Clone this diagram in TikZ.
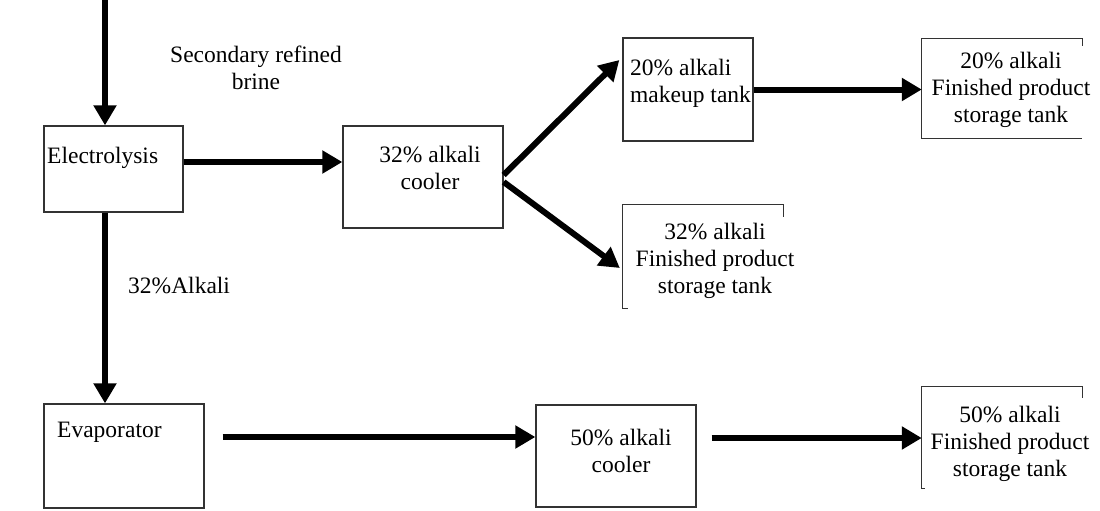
\documentclass[tikz,border=0pt]{standalone}
\usepackage{fontspec}
\setmainfont{Liberation Serif}
\usetikzlibrary{arrows.meta,calc}
\begin{document}
\begin{tikzpicture}[x=1pt,y=-1pt,
  box/.style={draw=black!80,line width=1.3pt,minimum width=#1,inner sep=0pt},
  ghost/.style={inner sep=0pt,minimum width=#1},
  flow/.style={line width=6pt,-{Triangle[length=20pt,width=22pt]}},
  txt/.style={font=\fontsize{23.5pt}{27pt}\selectfont,inner sep=0pt,align=center},
  txtl/.style={font=\fontsize{23.5pt}{27pt}\selectfont,inner sep=0pt,anchor=base west}]
\useasboundingbox (0,0) rectangle (1100,511);
% boxes
\node[box=139pt,minimum height=86pt] (elec) at (113.5,169) {};
\node[box=160pt,minimum height=102pt] (cool) at (423,177) {};
\node[box=130pt,minimum height=103pt] (mk) at (688,89.5) {};
\node[box=160pt,minimum height=104pt] (evap) at (124,456) {};
\node[box=160pt,minimum height=102pt] (c50) at (616,456) {};
\node[ghost=160pt,minimum height=99pt] (f20) at (1002,88.5) {};
\node[ghost=160pt,minimum height=103pt] (f32) at (703,256.5) {};
\node[ghost=160pt,minimum height=101pt] (f50) at (1002,437.5) {};
% partial outlines
\draw[draw=black!80,line width=1.3pt] ($(f20.north east)+(0,7)$) -- (f20.north east) -- (f20.north west) -- (f20.south west) -- (f20.south east);
\draw[draw=black!80,line width=1.3pt] ($(f32.north east)+(0,12)$) -- (f32.north east) -- (f32.north west) -- (f32.south west) -- ($(f32.south west)+(5,0)$);
\draw[draw=black!80,line width=1.3pt] ($(f50.north east)+(0,11)$) -- (f50.north east) -- (f50.north west) -- (f50.south west) -- ($(f50.south west)+(3,0)$);
% texts (base = baseline of last line)
\node[txtl] (telec) at (47,163) {Electrolysis};
\node[txt,anchor=base] (tcool) at (430,189) {32\% alkali\\cooler};
\node[txtl,align=left] (tmk) at (630,102) {20\% alkali\\makeup tank};
\node[txt,anchor=base] (tf20) at (1011,122) {20\% alkali\\Finished product\\storage tank};
\node[txt,anchor=base] (tf32) at (715,293) {32\% alkali\\Finished product\\storage tank};
\node[txtl] (tevap) at (57,437) {Evaporator};
\node[txt,anchor=base] (tc50) at (621,472) {50\% alkali\\cooler};
\node[txt,anchor=base] (tf50) at (1010,476) {50\% alkali\\Finished product\\storage tank};
\node[txt,anchor=base] (tbrine) at (256,89) {Secondary refined\\brine};
\node[txtl] (talk) at (128,293) {32\%Alkali};
% connectors
\coordinate (in) at (105,0);
\draw[flow] (in) -- (in |- elec.north);
\draw[flow] (in |- elec.south) -- (in |- evap.north);
\draw[flow] ($(elec.east)+(0,-7)$) -- ($(cool.west)+(0,-15)$);
\draw[flow] ($(cool.east)+(0,-2)$) -- ($(mk.west)+(-3,-29.5)$);
\draw[flow] ($(cool.east)+(0,5)$) -- ($(f32.west)+(-3,11.5)$);
\draw[flow] (mk.east) -- (mk.east -| f20.west);
\draw[flow] ($(evap.east)+(18,-19)$) -- ($(c50.west)+(0,-19)$);
\draw[flow] ($(c50.east)+(15,-18)$) -- ($(f50.west)+(0,0.5)$);
\end{tikzpicture}
\end{document}
